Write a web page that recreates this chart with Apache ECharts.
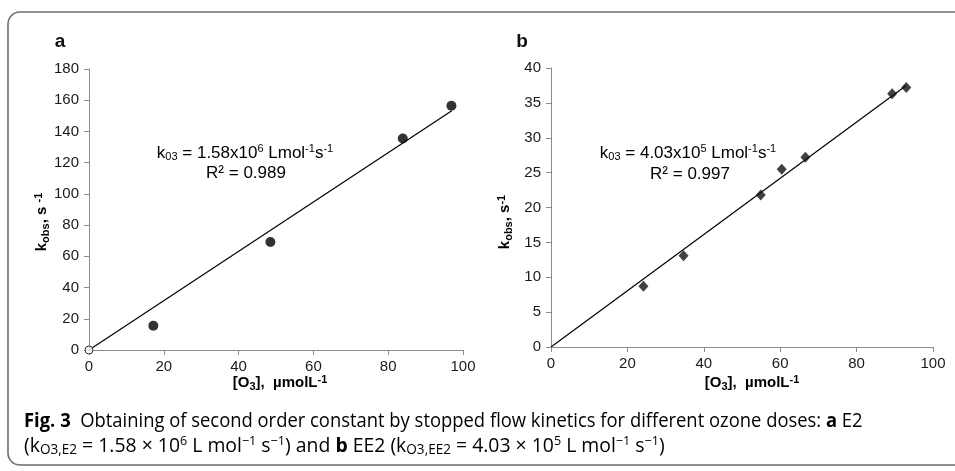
<!DOCTYPE html>
<html><head><meta charset="utf-8">
<script src="https://cdn.jsdelivr.net/npm/echarts@6/dist/echarts.min.js"></script>
<style>html,body{margin:0;padding:0;background:#fff}#c{width:955px;height:471px}</style>
</head><body><div id="c"></div>
<script>
// Panel a (E2)
const o3A = [0, 17.2, 48.5, 83.9, 96.9];
const kobsA = [0, 15.5, 69.2, 135.5, 156.5];
const slopeA = 1.58;
const fitRangeA = [0, 97];
// Panel b (EE2)
const o3B = [24.2, 34.7, 54.9, 60.4, 66.6, 89.3, 93.0];
const kobsB = [8.7, 13.1, 21.8, 25.5, 27.2, 36.3, 37.2];
const slopeB = 0.403;
const fitRangeB = [0, 93];

const FONT = 'Liberation Sans';
const CAPFONT = 'Open Sans';

const ptsA = o3A.slice(1).map((x, i) => [x, kobsA[i + 1]]);
const originA = [[o3A[0], kobsA[0]]];
const ptsB = o3B.map((x, i) => [x, kobsB[i]]);
const fitA = fitRangeA.map(x => [x, slopeA * x]);
const fitB = fitRangeB.map(x => [x, slopeB * x]);

function xAx(idx) {
  return {
    type: 'value', gridIndex: idx, min: 0, max: 100, interval: 20,
    axisLine: {lineStyle: {color: '#8c8c8c', width: 1}},
    axisTick: {show: true, length: 5, lineStyle: {color: '#8c8c8c'}},
    splitLine: {show: false},
    axisLabel: {color: '#1a1a1a', fontSize: 15, fontFamily: FONT, margin: 9}
  };
}
function yAx(idx, max, interval) {
  return {
    type: 'value', gridIndex: idx, min: 0, max: max, interval: interval,
    axisLine: {show: true, lineStyle: {color: '#8c8c8c', width: 1}},
    axisTick: {show: true, length: 5, lineStyle: {color: '#8c8c8c'}},
    splitLine: {show: false},
    axisLabel: {color: '#1a1a1a', fontSize: 15, fontFamily: FONT, margin: 10}
  };
}
const rich = {
  n: {fontSize: 17, fontFamily: FONT, color: '#111'},
  sub: {fontSize: 11, fontFamily: FONT, color: '#111', padding: [8, 0, 0, 0]},
  sup: {fontSize: 11, fontFamily: FONT, color: '#111', padding: [0, 0, 8, 0]}
};
const richB = {
  n: {fontSize: 15, fontWeight: 'bold', fontFamily: FONT, color: '#111'},
  sub: {fontSize: 11, fontWeight: 'bold', fontFamily: FONT, color: '#111', padding: [7, 0, 0, 0]},
  sup: {fontSize: 11, fontWeight: 'bold', fontFamily: FONT, color: '#111', padding: [0, 0, 7, 0]}
};
const capRich = {
  n: {fontSize: 20, fontFamily: CAPFONT, color: '#2a2a2a'},
  b: {fontSize: 20, fontWeight: 'bold', fontFamily: CAPFONT, color: '#1a1a1a'},
  sub: {fontSize: 14, fontFamily: CAPFONT, color: '#2a2a2a', padding: [9, 0, 0, 0]},
  sup: {fontSize: 13, fontFamily: CAPFONT, color: '#2a2a2a', padding: [0, 0, 9, 0]}
};
function txt(x, y, text, richObj, extra) {
  return Object.assign({type: 'text', x: x, y: y,
    style: {text: text, rich: richObj, align: 'center', verticalAlign: 'middle'}}, extra || {});
}

const chart = echarts.init(document.getElementById('c'), null, {renderer: 'canvas'});
chart.setOption({
  animation: false,
  backgroundColor: '#fff',
  grid: [
    {left: 89, right: 492, top: 69, bottom: 121},
    {left: 551, right: 22, top: 68, bottom: 124}
  ],
  xAxis: [xAx(0), xAx(1)],
  yAxis: [yAx(0, 180, 20), yAx(1, 40, 5)],
  graphic: [
    {type: 'rect', shape: {x: 8, y: 12, width: 980, height: 453, r: 12},
     style: {fill: 'none', stroke: '#6e6e6e', lineWidth: 1.6}, silent: true},
    {type: 'text', x: 60, y: 42, style: {text: 'a', font: 'bold 19px ' + FONT, fill: '#111', align: 'center', verticalAlign: 'middle'}},
    {type: 'text', x: 522, y: 42, style: {text: 'b', font: 'bold 19px ' + FONT, fill: '#111', align: 'center', verticalAlign: 'middle'}},
    txt(245, 153, '{n|k}{sub|03}{n| = 1.58x10}{sup|6}{n| Lmol}{sup|-1}{n|s}{sup|-1}', rich),
    txt(246, 173, '{n|R² = 0.989}', rich),
    txt(688, 153, '{n|k}{sub|03}{n| = 4.03x10}{sup|5}{n| Lmol}{sup|-1}{n|s}{sup|-1}', rich),
    txt(690, 174, '{n|R² = 0.997}', rich),
    txt(280, 383, '{n|[O}{sub|3}{n|],  µmolL}{sup|-1}', richB),
    txt(752, 383, '{n|[O}{sub|3}{n|],  µmolL}{sup|-1}', richB),
    txt(42, 222, '{n|k}{sub|obs}{n|, s }{sup|-1}', richB, {rotation: Math.PI / 2}),
    txt(505, 222, '{n|k}{sub|obs}{n|, s}{sup|-1}', richB, {rotation: Math.PI / 2}),
    {type: 'text', x: 24, y: 421, scaleX: 0.92, style: {
      text: '{b|Fig. 3}{n|  Obtaining of second order constant by stopped flow kinetics for different ozone doses: }{b|a}{n| E2}',
      rich: capRich, align: 'left', verticalAlign: 'middle'}},
    {type: 'text', x: 24, y: 446, scaleX: 0.97, style: {
      text: '{n|(k}{sub|O3,E2}{n| = 1.58 × 10}{sup|6}{n| L mol}{sup|−1}{n| s}{sup|−1}{n|) and }{b|b}{n| EE2 (k}{sub|O3,EE2}{n| = 4.03 × 10}{sup|5}{n| L mol}{sup|−1}{n| s}{sup|−1}{n|)}',
      rich: capRich, align: 'left', verticalAlign: 'middle'}}
  ],
  series: [
    {type: 'line', xAxisIndex: 0, yAxisIndex: 0, data: fitA, symbol: 'none',
     lineStyle: {color: '#000', width: 1.2}, z: 2},
    {type: 'scatter', xAxisIndex: 0, yAxisIndex: 0, data: ptsA, symbol: 'circle', symbolSize: 10,
     itemStyle: {color: '#000'}, z: 3},
    {type: 'scatter', xAxisIndex: 0, yAxisIndex: 0, data: originA, symbol: 'circle', symbolSize: 8,
     itemStyle: {color: '#fff', borderColor: '#000', borderWidth: 1}, z: 4},
    {type: 'line', xAxisIndex: 1, yAxisIndex: 1, data: fitB, symbol: 'none',
     lineStyle: {color: '#000', width: 1.2}, z: 2},
    {type: 'scatter', xAxisIndex: 1, yAxisIndex: 1, data: ptsB, symbol: 'diamond', symbolSize: [10, 11],
     itemStyle: {color: '#111'}, z: 3}
  ]
});
</script>
</body></html>
